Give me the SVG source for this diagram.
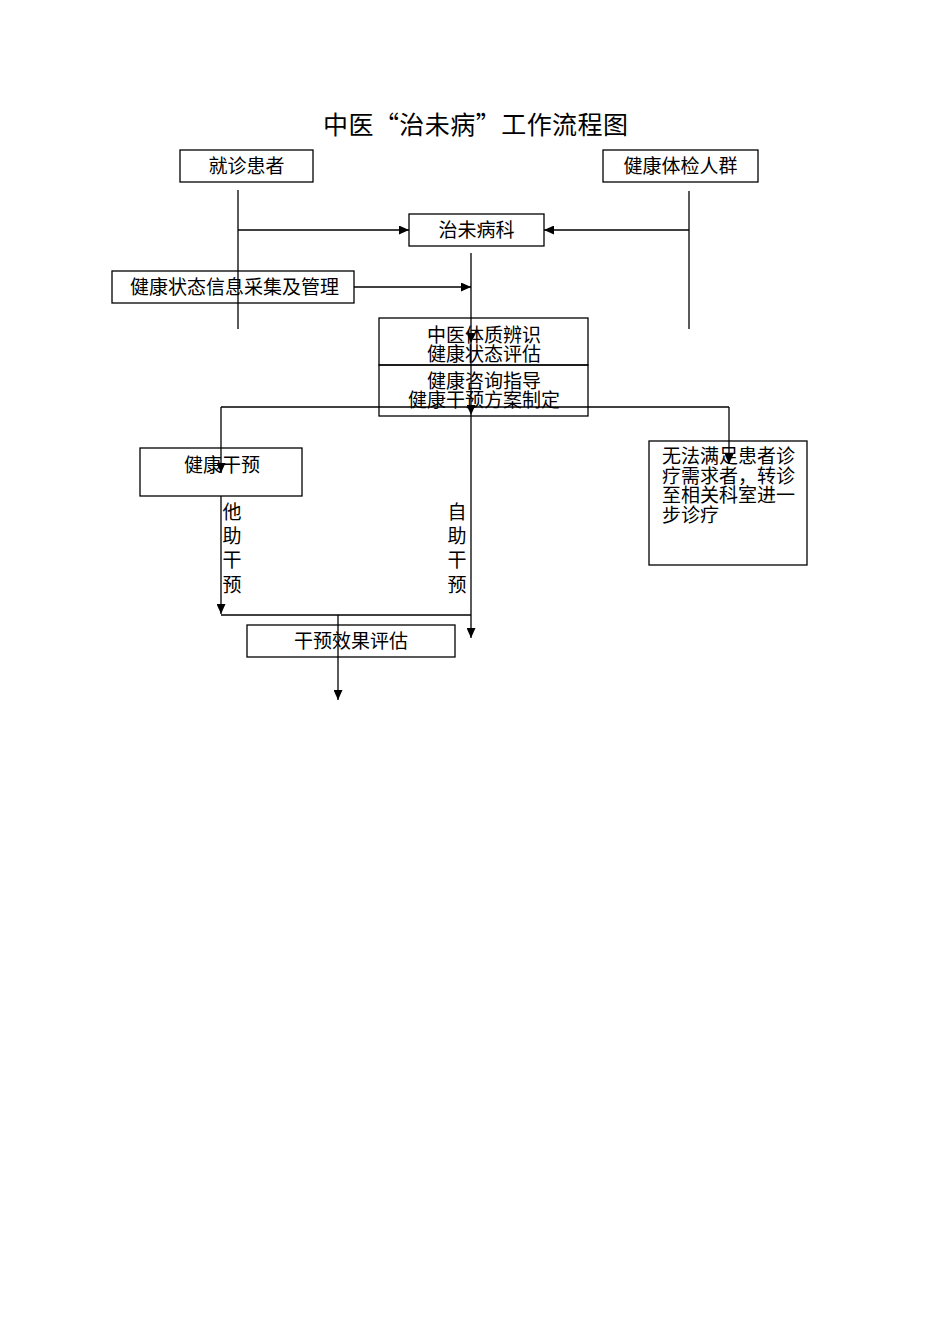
<svg xmlns="http://www.w3.org/2000/svg" width="950" height="1344" viewBox="0 0 950 1344">
<defs>
<marker id="ah" markerUnits="userSpaceOnUse" markerWidth="11" markerHeight="9" refX="10" refY="4.5" orient="auto">
<path d="M0,0 L10,4.5 L0,9 Z" fill="#000"/>
</marker>
<style>
text{font-family:"Liberation Serif","Noto Sans CJK SC",serif;font-size:19px;fill:#000}
.c{text-anchor:middle}
.box{fill:none;stroke:#000;stroke-width:1.3}
.ln{fill:none;stroke:#000;stroke-width:1.3}
.ar{fill:none;stroke:#000;stroke-width:1.3;marker-end:url(#ah)}
</style>
</defs>
<rect width="950" height="1344" fill="#fff"/>
<text x="323" y="134" textLength="305" lengthAdjust="spacing" style="font-size:25px;font-family:'Noto Sans CJK SC',sans-serif">中医“治未病”工作流程图</text>
<g id="n1"><rect class="box" x="180" y="150" width="133" height="32"/><text class="c" x="246.5" y="173">就诊患者</text></g>
<g id="n2"><rect class="box" x="603" y="150" width="155" height="32"/><text class="c" x="680.5" y="173">健康体检人群</text></g>
<g id="n3"><rect class="box" x="409" y="214" width="135" height="32"/><text class="c" x="476.5" y="237">治未病科</text></g>
<g id="n4"><rect class="box" x="112" y="271" width="242" height="32"/><text x="130" y="294" textLength="209" lengthAdjust="spacing">健康状态信息采集及管理</text></g>
<g id="n5"><rect class="box" x="379" y="318" width="209" height="47"/><text class="c" x="484" y="342">中医体质辨识</text><text class="c" x="484" y="361">健康状态评估</text></g>
<g id="n6"><rect class="box" x="379" y="365" width="209" height="51"/><text class="c" x="484" y="388">健康咨询指导</text><text class="c" x="484" y="407">健康干预方案制定</text></g>
<g id="n7"><rect class="box" x="140" y="448" width="162" height="48"/><text class="c" x="222" y="472">健康干预</text></g>
<g id="n8"><rect class="box" x="649" y="441" width="158" height="124"/><text x="662" y="463">无法满足患者诊</text><text x="662" y="483">疗需求者，转诊</text><text x="662" y="502">至相关科室进一</text><text x="662" y="522">步诊疗</text></g>
<g id="n9"><rect class="box" x="247" y="625" width="208" height="32"/><text class="c" x="351" y="648">干预效果评估</text></g>
<g id="labels">
<text class="c" x="232" y="519">他</text><text class="c" x="232" y="543">助</text><text class="c" x="232" y="567">干</text><text class="c" x="232" y="592">预</text>
<text class="c" x="457" y="519">自</text><text class="c" x="457" y="543">助</text><text class="c" x="457" y="567">干</text><text class="c" x="457" y="592">预</text>
</g>
<g id="connectors">
<path class="ln" d="M238 190 V329"/>
<path class="ar" d="M238 230 H409"/>
<path class="ln" d="M689 191 V329"/>
<path class="ar" d="M689 230 H544"/>
<path class="ar" d="M354 287 H471"/>
<path class="ar" d="M471 253 V343"/>
<path class="ar" d="M471 343 V415"/>
<path class="ar" d="M471 415 V638"/>
<path class="ln" d="M221 407 H729"/>
<path class="ar" d="M221 407 V473"/>
<path class="ar" d="M729 407 V464"/>
<path class="ar" d="M221 496 V614"/>
<path class="ln" d="M221 615 H471"/>
<path class="ar" d="M338 615 V700"/>
</g>
</svg>
